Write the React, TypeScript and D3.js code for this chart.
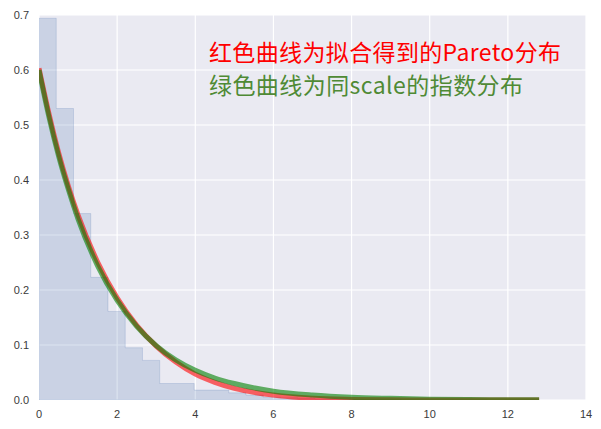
import React from "react";
import * as d3 from "d3";

// Histogram (density) heights, equal-width bins from 0 to 12.8
const histMax = 12.8;
const histHeights = [
  0.694, 0.53, 0.339, 0.223, 0.161, 0.095, 0.072, 0.03, 0.03, 0.018, 0.018, 0.013, 0.009,
  0.005, 0.004, 0.003, 0.002, 0.002, 0.001, 0.001, 0.001, 0.0005, 0.0005, 0.0005, 0.0003,
  0.0003, 0.0002, 0.0003, 0.0003,
];

// Curve samples
const curveX = [0, 0.25, 0.5, 0.75, 1, 1.5, 2, 2.5, 3, 3.5, 4, 4.5, 5, 6, 7, 8, 9, 10, 11, 12, 12.8];
const paretoY = [
  0.603, 0.522, 0.45, 0.389, 0.336, 0.251, 0.186, 0.136, 0.098, 0.069, 0.047, 0.032, 0.021,
  0.009, 0.003, 0.001, 0.0003, 0.0001, 0, 0, 0,
];
const expY = [
  0.6, 0.516, 0.444, 0.383, 0.329, 0.244, 0.181, 0.134, 0.099, 0.073, 0.054, 0.04, 0.03,
  0.016, 0.009, 0.005, 0.003, 0.0015, 0.0008, 0.0005, 0.0003,
];

const xTicks = [0, 2, 4, 6, 8, 10, 12, 14];
const yTicks = [0, 0.1, 0.2, 0.3, 0.4, 0.5, 0.6, 0.7];
const legendLines = ["红色曲线为拟合得到的Pareto分布", "绿色曲线为同scale的指数分布"];

const W = 601;
const H = 429;
const plot = { left: 39, right: 586, top: 15, bottom: 400 };

export default function App() {
  const x = d3.scaleLinear().domain([0, 14]).range([plot.left, plot.right]);
  const y = d3.scaleLinear().domain([0, 0.7]).range([plot.bottom, plot.top]);

  const bw = histMax / histHeights.length;
  const pts: [number, number][] = [[0, 0]];
  histHeights.forEach((h, i) => {
    pts.push([i * bw, h]);
    pts.push([(i + 1) * bw, h]);
  });
  pts.push([histMax, 0]);
  const histPath =
    d3.line<[number, number]>().x((d) => x(d[0])).y((d) => y(d[1]))(pts) + "Z";

  const line = d3
    .line<number>()
    .x((_, i) => x(curveX[i]))
    .curve(d3.curveMonotoneX);
  const redPath = line.y((d) => y(d))(paretoY) as string;
  const greenPath = line.y((d) => y(d))(expY) as string;

  const tickFont = "'Liberation Sans', Arial, sans-serif";
  const cjkFont = "'Noto Sans CJK SC', sans-serif";

  return (
    <svg width={W} height={H} style={{ position: "absolute", left: 0, top: 0 }}>
      <defs>
        <clipPath id="pa">
          <rect x={plot.left} y={plot.top} width={plot.right - plot.left} height={plot.bottom - plot.top} />
        </clipPath>
      </defs>
      <rect x={0} y={0} width={W} height={H} fill="#ffffff" />
      <rect
        x={plot.left}
        y={plot.top}
        width={plot.right - plot.left}
        height={plot.bottom - plot.top}
        fill="#EAEAF2"
      />
      {xTicks.map((t) => (
        <line key={"gx" + t} x1={x(t)} x2={x(t)} y1={plot.top} y2={plot.bottom} stroke="#fff" strokeWidth={1.2} />
      ))}
      {yTicks.map((t) => (
        <line key={"gy" + t} x1={plot.left} x2={plot.right} y1={y(t)} y2={y(t)} stroke="#fff" strokeWidth={1.2} />
      ))}
      <g clipPath="url(#pa)">
        <path d={histPath} fill="#4C72B0" fillOpacity={0.2} stroke="#4C72B0" strokeOpacity={0.2} strokeWidth={1} />
        <path d={redPath} fill="none" stroke="#ff0000" strokeOpacity={0.6} strokeWidth={5} />
        <path d={greenPath} fill="none" stroke="#008000" strokeOpacity={0.6} strokeWidth={5} />
      </g>
      {xTicks.map((t) => (
        <text key={"tx" + t} x={x(t)} y={418} textAnchor="middle" fontFamily={tickFont} fontSize={11} fill="#3a3a3a">
          {t}
        </text>
      ))}
      {yTicks.map((t) => (
        <text key={"ty" + t} x={29} y={y(t) + 4} textAnchor="end" fontFamily={tickFont} fontSize={11} fill="#3a3a3a">
          {t.toFixed(1)}
        </text>
      ))}
      <text x={209} y={61} fontFamily={cjkFont} fontSize={23} fill="#ff0000" textLength={352} lengthAdjust="spacing">
        {legendLines[0]}
      </text>
      <text x={209} y={94} fontFamily={cjkFont} fontSize={23} fill="#4f8a35" textLength={314} lengthAdjust="spacing">
        {legendLines[1]}
      </text>
    </svg>
  );
}
